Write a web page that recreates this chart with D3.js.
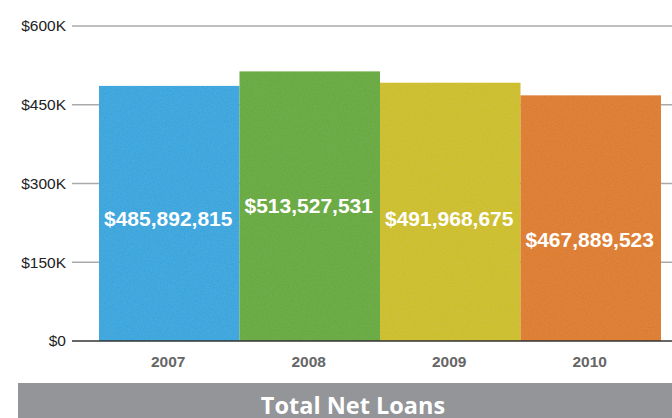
<!DOCTYPE html>
<html><head><meta charset="utf-8">
<script src="https://cdn.jsdelivr.net/npm/d3@7"></script>
<style>body{margin:0;background:#fff;}svg{display:block;}</style>
</head><body>
<svg id="c" width="672" height="418"></svg>
<script>
const years = ["2007", "2008", "2009", "2010"];
const values = [485892815, 513527531, 491968675, 467889523];
const barColors = ["#2ea4dd", "#64a834", "#ccbd17", "#dd791d"];
const yTicks = [0, 150e6, 300e6, 450e6, 600e6];
const yTickLabels = ["$0", "$150K", "$300K", "$450K", "$600K"];
const title = "Total Net Loans";

const svg = d3.select("#c");
const x = d3.scaleBand().domain(years).range([99, 661]).padding(0);
const y = d3.scaleLinear().domain([0, 600e6]).range([341, 26]);
const fmt = d3.format("$,");

// texture filter
const defs = svg.append("defs");
const f = defs.append("filter").attr("id", "tex").attr("x", 0).attr("y", 0).attr("width", 1).attr("height", 1);
f.append("feTurbulence").attr("type", "fractalNoise").attr("baseFrequency", 0.7).attr("numOctaves", 2).attr("seed", 3).attr("result", "n");
f.append("feColorMatrix").attr("in", "n").attr("type", "matrix")
  .attr("values", "0 0 0 0 1  0 0 0 0 1  0 0 0 0 1  0 0 0 0.06 0").attr("result", "na");
f.append("feComposite").attr("in", "na").attr("in2", "SourceGraphic").attr("operator", "in").attr("result", "nc");
f.append("feMerge").call(m => { m.append("feMergeNode").attr("in", "SourceGraphic"); m.append("feMergeNode").attr("in", "nc"); });

// gridlines
svg.append("g").selectAll("line").data(yTicks.filter(d => d > 0)).join("line")
  .attr("x1", 72).attr("x2", 672)
  .attr("y1", d => y(d)).attr("y2", d => y(d))
  .attr("stroke", "#aaaaaa").attr("stroke-width", 1.3);

// y tick labels
svg.append("g").selectAll("text").data(yTicks).join("text")
  .attr("x", 66).attr("y", d => y(d)).attr("dy", "0.35em")
  .attr("text-anchor", "end")
  .attr("font-family", "Liberation Sans, Arial, sans-serif").attr("font-size", 15.5)
  .attr("fill", "#222").text((d, i) => yTickLabels[i]);

// bars
svg.append("g").selectAll("rect").data(values).join("rect")
  .attr("x", (d, i) => x(years[i])).attr("width", x.bandwidth())
  .attr("y", d => y(d)).attr("height", d => y(0) - y(d))
  .attr("fill", (d, i) => barColors[i]).attr("filter", "url(#tex)");

// baseline
svg.append("line").attr("x1", 72).attr("x2", 672).attr("y1", y(0)).attr("y2", y(0))
  .attr("stroke", "#333").attr("stroke-width", 1.5);

// value labels (baseline offsets below bar top, in px)
const labelDrop = [140, 142, 143, 152];
svg.append("g").selectAll("text").data(values).join("text")
  .attr("x", (d, i) => x(years[i]) + x.bandwidth() / 2 - 1)
  .attr("y", (d, i) => y(d) + labelDrop[i])
  .attr("text-anchor", "middle")
  .attr("font-family", "Liberation Sans, Arial, sans-serif").attr("font-weight", "bold")
  .attr("font-size", 21).attr("fill", "#fff")
  .text(d => fmt(d));

// x labels
svg.append("g").selectAll("text").data(years).join("text")
  .attr("x", d => x(d) + x.bandwidth() / 2 - 1).attr("y", 367)
  .attr("text-anchor", "middle")
  .attr("font-family", "Liberation Sans, Arial, sans-serif").attr("font-weight", "bold")
  .attr("font-size", 15.5).attr("fill", "#666").text(d => d);

// title bar
svg.append("rect").attr("x", 18).attr("y", 383).attr("width", 654).attr("height", 35).attr("fill", "#939598");
svg.append("text").attr("x", 353).attr("y", 414).attr("text-anchor", "middle")
  .attr("font-family", "Open Sans, Noto Sans, sans-serif").attr("font-weight", "bold")
  .attr("font-size", 23.5).attr("fill", "#fff").text(title);
</script>
</body></html>
